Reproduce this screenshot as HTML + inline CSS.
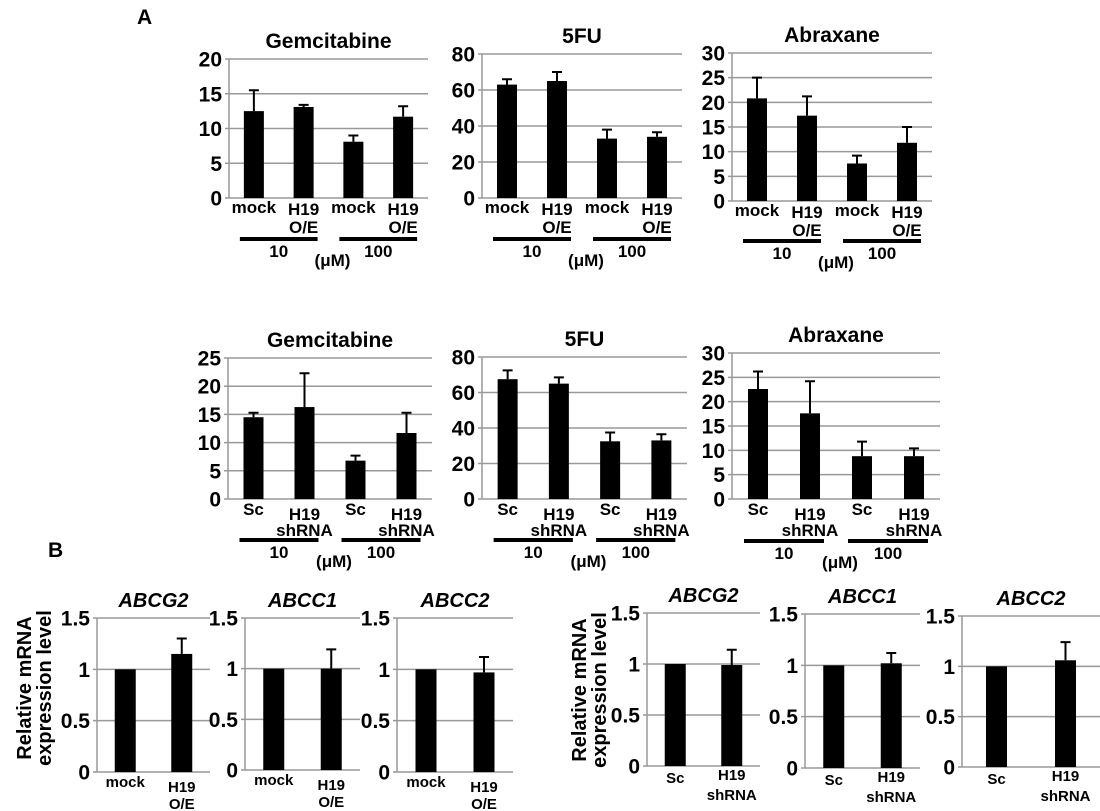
<!DOCTYPE html>
<html><head><meta charset="utf-8"><style>
html,body{margin:0;padding:0;background:#fff;}
svg{display:block;font-family:"Liberation Sans",Arial,sans-serif;font-weight:bold;}
</style></head><body>
<svg id="fig" width="1100" height="811" viewBox="0 0 1100 811" xmlns="http://www.w3.org/2000/svg">
<text x="137" y="24" font-size="21">A</text>
<text x="48" y="557" font-size="21">B</text>
<text transform="translate(42,688) rotate(-90)" text-anchor="middle" font-size="20"><tspan x="0" y="-11">Relative mRNA</tspan><tspan x="0" y="9">expression level</tspan></text>
<text transform="translate(597,690) rotate(-90)" text-anchor="middle" font-size="20"><tspan x="0" y="-11">Relative mRNA</tspan><tspan x="0" y="9">expression level</tspan></text>
</svg>
<script>
// ---- data ----
const catsOE = ["mock","H19|O/E","mock","H19|O/E"];
const catsSh = ["Sc","H19|shRNA","Sc","H19|shRNA"];
const catsOE2 = ["mock","H19|O/E"];
const catsSh2 = ["Sc","H19|shRNA"];
const gemTopVals = [12.5,13.1,8.1,11.7];
const gemTopErr = [3.0,0.3,0.9,1.5];
const fuTopVals = [63,65,33,34];
const fuTopErr = [3,5,5,2.5];
const abrTopVals = [20.8,17.3,7.6,11.8];
const abrTopErr = [4.2,3.9,1.6,3.2];
const gemBotVals = [14.5,16.3,6.8,11.7];
const gemBotErr = [0.8,6.0,0.9,3.6];
const fuBotVals = [67.5,65,32.5,33];
const fuBotErr = [5,3.5,5,3.5];
const abrBotVals = [22.6,17.6,8.8,8.8];
const abrBotErr = [3.6,6.6,3.0,1.6];
const bOeG2 = [1,1.15], bOeG2Err = [0,0.15];
const bOeC1 = [1,1.0], bOeC1Err = [0,0.19];
const bOeC2 = [1,0.97], bOeC2Err = [0,0.15];
const bShG2 = [1,0.99], bShG2Err = [0,0.15];
const bShC1 = [1,1.02], bShC1Err = [0,0.1];
const bShC2 = [1,1.06], bShC2Err = [0,0.18];
const ticksGem20 = ["0","5","10","15","20"];
const ticksGem25 = ["0","5","10","15","20","25"];
const ticks80 = ["0","20","40","60","80"];
const ticks30 = ["0","5","10","15","20","25","30"];
const ticks15 = ["0","0.5","1","1.5"];

const NS="http://www.w3.org/2000/svg";
const svg=document.getElementById('fig');
function mk(tag,attrs,parent){const e=document.createElementNS(NS,tag);for(const k in attrs)e.setAttribute(k,attrs[k]);(parent||svg).appendChild(e);return e;}

function panel(o){
  const g=mk('g',{});
  
  
  const ticks=o.ticks, tmax=parseFloat(ticks[ticks.length-1]);
  const y=v=>o.b-(v/tmax)*(o.b-o.t);
  const n=o.cats.length, w=(o.r-o.l)/n;
  const x=i=>o.l+(i+0.5)*w;
  const tt=mk('text',{x:(o.l+o.r)/2,y:o.t-11,'text-anchor':'middle','font-size':o.tfs||21,'font-style':o.italic?'italic':'normal'},g);
  tt.textContent=o.title;
  
  
  ticks.forEach(t=>{
    const v=parseFloat(t), yy=y(v);
    const gl=mk('line',{x1:o.l-4,x2:o.r,y1:yy,y2:yy,stroke:'#999','stroke-width':1.5},g);
    
    
    const tl=mk('text',{x:o.l-7,y:yy+7.5,'text-anchor':'end','font-size':21},g);
    tl.textContent=t;
    
    
  });
  const ax=mk('line',{x1:o.l,x2:o.l,y1:o.t,y2:o.b,stroke:'#999','stroke-width':1.5},g);
  
  
  o.vals.forEach((v,i)=>{
    const cx=x(i), bw=o.bw||20, top=y(v), et=y(v+o.err[i]);
    if(o.err[i]>0){
      const el=mk('path',{d:`M${cx} ${top}V${et}M${cx-5} ${et}H${cx+5}`,stroke:'#000','stroke-width':2,fill:'none'},g);
      
      
    }
    const r=mk('rect',{x:cx-bw/2,y:top,width:bw,height:o.b-top,fill:'#000'},g);
    
    
    const parts=o.cats[i].split('|');
    parts.forEach((p,j)=>{
      const lt=mk('text',{x:cx,y:o.b+(parts.length>1?o.ly2:o.ly1)+j*(o.ls||18),'text-anchor':'middle','font-size':o.cfs||17},g);
      lt.textContent=p;
      
      
    });
  });
  if(o.under){
    [[0,'10'],[2,'100']].forEach(([i,lab])=>{
      const x1=x(i)-14,x2=x(i+1)+14;
      const ul=mk('rect',{x:x1,y:o.uy,width:x2-x1,height:4,fill:'#000'},g);
      
      
      const dl=mk('text',{x:(x1+x2)/2,y:o.uy+20,'text-anchor':'middle','font-size':17},g);
      dl.textContent=lab;
      
      
    });
    const um=mk('text',{x:(x(1)+x(2))/2+4,y:o.uy+29,'text-anchor':'middle','font-size':17},g);
    um.textContent='(μM)';
    
    
  }
}
panel({name:'gemcitabine-oe-chart',title:'Gemcitabine',l:229,r:428,t:59,b:198,ticks:ticksGem20,cats:catsOE,vals:gemTopVals,err:gemTopErr,ly1:15,ly2:17,ls:18,uy:237,under:true});
panel({name:'5fu-oe-chart',title:'5FU',l:482,r:682,t:54,b:198,ticks:ticks80,cats:catsOE,vals:fuTopVals,err:fuTopErr,ly1:15,ly2:17,ls:18,uy:237,under:true});
panel({name:'abraxane-oe-chart',title:'Abraxane',l:732,r:932,t:53,b:201,ticks:ticks30,cats:catsOE,vals:abrTopVals,err:abrTopErr,ly1:15,ly2:17,ls:18,uy:239,under:true});
panel({name:'gemcitabine-sh-chart',title:'Gemcitabine',l:228,r:432,t:358,b:499,ticks:ticksGem25,cats:catsSh,vals:gemBotVals,err:gemBotErr,ly1:16,ly2:21,ls:16,uy:538,under:true});
panel({name:'5fu-sh-chart',title:'5FU',l:482,r:687,t:357,b:499,ticks:ticks80,cats:catsSh,vals:fuBotVals,err:fuBotErr,ly1:16,ly2:21,ls:16,uy:538,under:true});
panel({name:'abraxane-sh-chart',title:'Abraxane',l:732,r:940,t:353,b:499,ticks:ticks30,cats:catsSh,vals:abrBotVals,err:abrBotErr,ly1:16,ly2:21,ls:16,uy:539,under:true});
panel({name:'abcg2-oe-chart',title:'ABCG2',italic:true,l:97,r:210,t:618,b:772,ticks:ticks15,cats:catsOE2,vals:bOeG2,err:bOeG2Err,ly1:15,ly2:20,ls:17,cfs:15,tfs:20,bw:21});
panel({name:'abcc1-oe-chart',title:'ABCC1',italic:true,l:245,r:360,t:618,b:770,ticks:ticks15,cats:catsOE2,vals:bOeC1,err:bOeC1Err,ly1:15,ly2:20,ls:17,cfs:15,tfs:20,bw:21});
panel({name:'abcc2-oe-chart',title:'ABCC2',italic:true,l:397,r:513,t:618,b:772,ticks:ticks15,cats:catsOE2,vals:bOeC2,err:bOeC2Err,ly1:15,ly2:20,ls:17,cfs:15,tfs:20,bw:21});
panel({name:'abcg2-sh-chart',title:'ABCG2',italic:true,l:647,r:760,t:613,b:766,ticks:ticks15,cats:catsSh2,vals:bShG2,err:bShG2Err,ly1:17,ly2:14,ls:20,cfs:15,tfs:20,bw:21});
panel({name:'abcc1-sh-chart',title:'ABCC1',italic:true,l:805,r:920,t:614,b:768,ticks:ticks15,cats:catsSh2,vals:bShC1,err:bShC1Err,ly1:17,ly2:14,ls:20,cfs:15,tfs:20,bw:21});
panel({name:'abcc2-sh-chart',title:'ABCC2',italic:true,l:962,r:1100,t:616,b:767,ticks:ticks15,cats:catsSh2,vals:bShC2,err:bShC2Err,ly1:17,ly2:14,ls:20,cfs:15,tfs:20,bw:21});
</script>
</body></html>
